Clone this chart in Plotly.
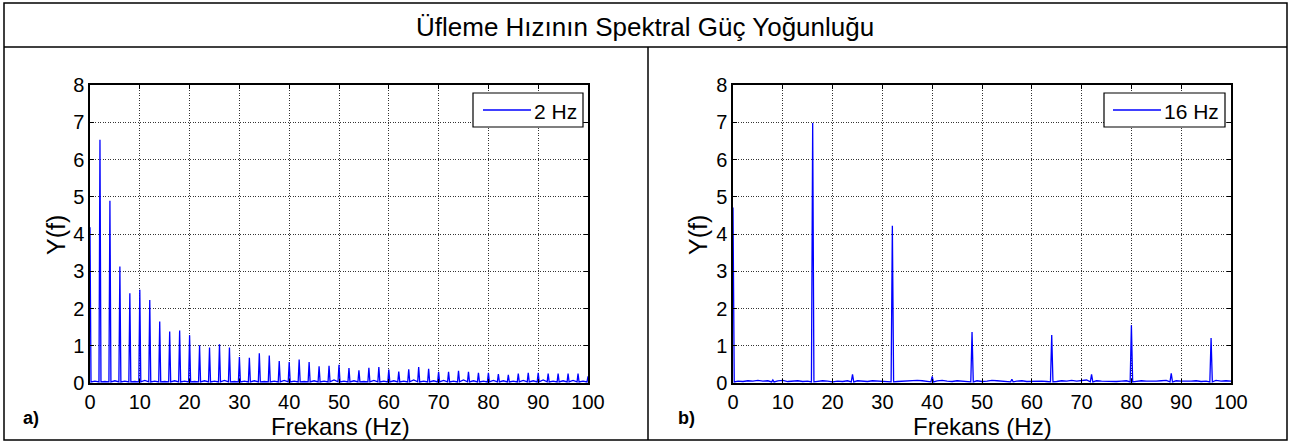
import plotly.graph_objects as go

# ---------------- data ----------------
# Panel a) : 2 Hz excitation, harmonics every 2 Hz
a_peak_freq = [0, 2, 4, 6, 8, 10, 12, 14, 16, 18, 20, 22, 24, 26, 28, 30, 32, 34, 36, 38,
               40, 42, 44, 46, 48, 50, 52, 54, 56, 58, 60, 62, 64, 66, 68, 70, 72, 74, 76, 78,
               80, 82, 84, 86, 88, 90, 92, 94, 96, 98, 100]
a_peak_val = [4.18, 6.53, 4.89, 3.13, 2.41, 2.50, 2.23, 1.65, 1.38, 1.41, 1.28, 1.01, 0.95, 1.04,
              0.95, 0.70, 0.68, 0.80, 0.74, 0.59, 0.56, 0.63, 0.56, 0.45, 0.46, 0.49, 0.40, 0.34,
              0.41, 0.43, 0.36, 0.31, 0.37, 0.43, 0.38, 0.30, 0.30, 0.33, 0.30, 0.27, 0.27, 0.24,
              0.22, 0.25, 0.27, 0.27, 0.25, 0.25, 0.25, 0.25, 0.18]
# background level between harmonics (odd frequencies)
a_noise_freq = [1, 3, 5, 7, 9, 11, 13, 15, 17, 19, 21, 23, 25, 27, 29, 31, 33, 35, 37, 39,
                41, 43, 45, 47, 49, 51, 53, 55, 57, 59, 61, 63, 65, 67, 69, 71, 73, 75, 77, 79,
                81, 83, 85, 87, 89, 91, 93, 95, 97, 99]
a_noise_val = [0.05, 0.04, 0.06, 0.05, 0.04, 0.07, 0.05, 0.04, 0.06, 0.05, 0.04, 0.06, 0.05, 0.07,
               0.04, 0.05, 0.06, 0.04, 0.05, 0.07, 0.05, 0.04, 0.06, 0.05, 0.08, 0.05, 0.06, 0.04,
               0.07, 0.05, 0.06, 0.05, 0.08, 0.05, 0.06, 0.07, 0.05, 0.08, 0.06, 0.05, 0.07, 0.06,
               0.05, 0.07, 0.06, 0.08, 0.05, 0.06, 0.07, 0.05]
a_floor = 0.03

# Panel b) : 16 Hz excitation
b_peak_freq = [0, 8, 16, 24, 32, 40, 48, 56, 64, 72, 80, 88, 96]
b_peak_val = [4.71, 0.08, 6.98, 0.23, 4.22, 0.18, 1.37, 0.10, 1.29, 0.23, 1.55, 0.26, 1.21]
b_noise_freq = list(range(0, 101))
b_noise_val = [0.08, 0.05, 0.04, 0.06, 0.05, 0.07, 0.05, 0.06, 0.08, 0.06, 0.07, 0.04, 0.05, 0.06,
               0.04, 0.05, 0.05, 0.04, 0.06, 0.05, 0.03, 0.05, 0.04, 0.06, 0.09, 0.06, 0.05, 0.04,
               0.06, 0.05, 0.04, 0.05, 0.05, 0.04, 0.05, 0.06, 0.05, 0.07, 0.06, 0.05, 0.09, 0.06,
               0.07, 0.05, 0.04, 0.06, 0.05, 0.04, 0.05, 0.06, 0.04, 0.05, 0.07, 0.06, 0.05, 0.04,
               0.07, 0.05, 0.06, 0.04, 0.05, 0.06, 0.05, 0.04, 0.05, 0.04, 0.06, 0.05, 0.07, 0.05,
               0.06, 0.08, 0.09, 0.06, 0.05, 0.04, 0.05, 0.04, 0.05, 0.06, 0.05, 0.04, 0.06, 0.05,
               0.04, 0.05, 0.06, 0.07, 0.11, 0.06, 0.05, 0.04, 0.05, 0.06, 0.04, 0.05, 0.05, 0.07,
               0.05, 0.06, 0.05]
b_floor = 0.03

series_names = ["2 Hz", "16 Hz"]
x_ticks = [0, 10, 20, 30, 40, 50, 60, 70, 80, 90, 100]
y_ticks = [0, 1, 2, 3, 4, 5, 6, 7, 8]


def build_spectrum(pf, pv, nf, nv, floor, half):
    pts = []
    for f, v in zip(pf, pv):
        pts.append((f, v))
        if f - half >= 0:
            pts.append((f - half, floor))
        if f + half <= 100:
            pts.append((f + half, floor))
    for f, v in zip(nf, nv):
        if all(abs(f - p) > half * 1.5 for p in pf):
            pts.append((f, v))
    pts.sort(key=lambda t: t[0])
    return [p[0] for p in pts], [p[1] for p in pts]


ax, ay = build_spectrum(a_peak_freq, a_peak_val, a_noise_freq, a_noise_val, a_floor, 0.2)
bx, by = build_spectrum(b_peak_freq, b_peak_val, b_noise_freq, b_noise_val, b_floor, 0.25)

W, H = 1290, 446
FONT = "Arial, Liberation Sans, sans-serif"
BLUE = "#0000FF"


def px(x):
    return x / W


def py(y):
    return (H - y) / H


fig = go.Figure()
fig.add_trace(go.Scatter(x=ax, y=ay, mode="lines", name=series_names[0],
                         line=dict(color=BLUE, width=1.3), xaxis="x", yaxis="y",
                         showlegend=False))
fig.add_trace(go.Scatter(x=bx, y=by, mode="lines", name=series_names[1],
                         line=dict(color=BLUE, width=1.3), xaxis="x2", yaxis="y2",
                         showlegend=False))

axis_common = dict(
    showline=True, linecolor="black", linewidth=1.5, mirror="ticks",
    ticks="inside", ticklen=4, tickcolor="black",
    showgrid=True, gridcolor="rgba(30,30,30,0.9)", griddash="1px,1.5px", gridwidth=1,
    zeroline=False, tickfont=dict(family=FONT, size=20, color="black"),
    fixedrange=True, automargin=False,
)

ydom = [py(383), py(85)]
fig.update_layout(
    width=W, height=H, autosize=False,
    margin=dict(l=0, r=0, t=0, b=0, pad=0, autoexpand=False),
    paper_bgcolor="white", plot_bgcolor="white",
    font=dict(family=FONT, color="black"),
    showlegend=False,
    xaxis=dict(domain=[px(90), px(588)], anchor="y", range=[0, 100],
               tickmode="array", tickvals=x_ticks, **axis_common),
    yaxis=dict(domain=ydom, anchor="x", range=[0, 8],
               tickmode="array", tickvals=y_ticks, **axis_common),
    xaxis2=dict(domain=[px(733), px(1231)], anchor="y2", range=[0, 100],
                tickmode="array", tickvals=x_ticks, **axis_common),
    yaxis2=dict(domain=ydom, anchor="x2", range=[0, 8],
                tickmode="array", tickvals=y_ticks, **axis_common),
)

annotations = [
    dict(text="Üfleme Hızının Spektral Güç Yoğunluğu", x=px(645), y=py(27),
         font=dict(size=26, family=FONT)),
    dict(text="Frekans (Hz)", x=px(340), y=py(426), font=dict(size=24, family=FONT)),
    dict(text="Frekans (Hz)", x=px(982), y=py(426), font=dict(size=24, family=FONT)),
    dict(text="Y(f)", x=px(56), y=py(235), textangle=-90, font=dict(size=25, family=FONT)),
    dict(text="Y(f)", x=px(698), y=py(235), textangle=-90, font=dict(size=25, family=FONT)),
    dict(text="<b>a)</b>", x=px(31), y=py(418), font=dict(size=18, family=FONT)),
    dict(text="<b>b)</b>", x=px(686), y=py(418), font=dict(size=18, family=FONT)),
    # legend texts
    dict(text=series_names[0], x=px(532), y=py(111), xanchor="left",
         font=dict(size=21, family=FONT)),
    dict(text=series_names[1], x=px(1162), y=py(111), xanchor="left",
         font=dict(size=21, family=FONT)),
]
for a in annotations:
    a.setdefault("xanchor", "center")
    a.update(xref="paper", yref="paper", showarrow=False, yanchor="middle")
fig.update_layout(annotations=annotations)

line = dict(color="black", width=1.5)
thin = dict(color="black", width=1.2)
shapes = [
    dict(type="rect", x0=px(4), x1=px(1287), y0=py(440), y1=py(3), line=line),
    dict(type="line", x0=px(4), x1=px(1287), y0=py(47), y1=py(47), line=line),
    dict(type="line", x0=px(648), x1=px(648), y0=py(440), y1=py(47), line=line),
    # legend boxes and samples
    dict(type="rect", x0=px(473), x1=px(583), y0=py(127), y1=py(93), line=thin,
         fillcolor="white", layer="above"),
    dict(type="line", x0=px(483), x1=px(531), y0=py(110), y1=py(110),
         line=dict(color=BLUE, width=1.3), layer="above"),
    dict(type="rect", x0=px(1104), x1=px(1225), y0=py(127), y1=py(93), line=thin,
         fillcolor="white", layer="above"),
    dict(type="line", x0=px(1113), x1=px(1161), y0=py(110), y1=py(110),
         line=dict(color=BLUE, width=1.3), layer="above"),
]
for s in shapes:
    s.update(xref="paper", yref="paper")
fig.update_layout(shapes=shapes)

post = """
document.documentElement.style.margin='0';
document.documentElement.style.overflow='hidden';
document.body.style.margin='0';
document.body.style.overflow='hidden';
var gd = document.querySelector('.plotly-graph-div');
gd.style.position='fixed'; gd.style.left='0px'; gd.style.top='0px';
"""

fig.write_html("out.html", post_script=post,
               config={"displayModeBar": False, "responsive": False})
